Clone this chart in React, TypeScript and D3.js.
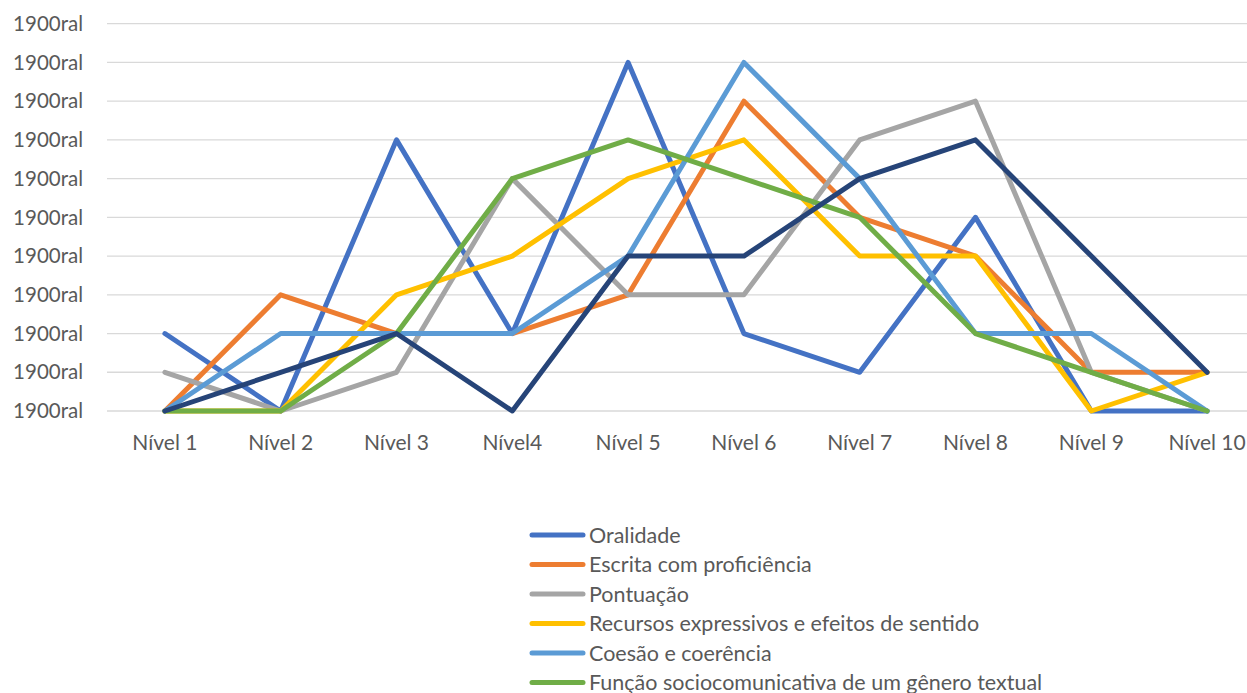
import * as d3 from "d3";
import { useEffect, useRef } from "react";

const categories = [
  "Nível 1",
  "Nível 2",
  "Nível 3",
  "Nível4",
  "Nível 5",
  "Nível 6",
  "Nível 7",
  "Nível 8",
  "Nível 9",
  "Nível 10",
];

const tickValues = [0, 1, 2, 3, 4, 5, 6, 7, 8, 9, 10];
const tickLabel = "1900ral";

const seriesNames = [
  "Oralidade",
  "Escrita com proficiência",
  "Pontuação",
  "Recursos expressivos e efeitos de sentido",
  "Coesão e coerência",
  "Função sociocomunicativa de um gênero textual",
  "Leitura",
];

const oralidade = [2, 0, 7, 2, 9, 2, 1, 5, 0, 0];
const escrita = [0, 3, 2, 2, 3, 8, 5, 4, 1, 1];
const pontuacao = [1, 0, 1, 6, 3, 3, 7, 8, 1, 0];
const recursos = [0, 0, 3, 4, 6, 7, 4, 4, 0, 1];
const coesao = [0, 2, 2, 2, 4, 9, 6, 2, 2, 0];
const funcao = [0, 0, 2, 6, 7, 6, 5, 2, 1, 0];
const leitura = [0, 1, 2, 0, 4, 4, 6, 7, 4, 1];

const colors = ["#4472C4", "#ED7D31", "#A5A5A5", "#FFC000", "#5B9BD5", "#70AD47", "#264478"];

const W = 1247;
const H = 693;
const FONT = "Lato, 'Open Sans', sans-serif";

export default function App() {
  const svgRef = useRef<SVGSVGElement>(null);

  useEffect(() => {
    const values = [oralidade, escrita, pontuacao, recursos, coesao, funcao, leitura];
    const series = seriesNames.map((name, i) => ({ name, color: colors[i], values: values[i] }));

    const svg = d3.select(svgRef.current);
    svg.selectAll("*").remove();

    const x = d3.scalePoint<string>().domain(categories).range([107, 1265]).padding(0.5);
    const y = d3.scaleLinear().domain([0, 10]).range([411, 23.7]);

    // gridlines
    svg
      .append("g")
      .selectAll("line")
      .data(tickValues)
      .enter()
      .append("line")
      .attr("x1", 107)
      .attr("x2", 1265)
      .attr("y1", (d) => y(d))
      .attr("y2", (d) => y(d))
      .attr("stroke", "#D9D9D9")
      .attr("stroke-width", 1.3);

    // y labels
    svg
      .append("g")
      .selectAll("text")
      .data(tickValues)
      .enter()
      .append("text")
      .attr("x", 83)
      .attr("y", (d) => y(d))
      .attr("dy", "0.35em")
      .attr("text-anchor", "end")
      .attr("font-family", FONT)
      .attr("font-size", 20.5)
      .attr("fill", "#595959")
      .text(tickLabel);

    // x labels
    svg
      .append("g")
      .selectAll("text")
      .data(categories)
      .enter()
      .append("text")
      .attr("x", (d) => x(d) || 0)
      .attr("y", 443)
      .attr("dy", "0.35em")
      .attr("text-anchor", "middle")
      .attr("font-family", FONT)
      .attr("font-size", 21)
      .attr("fill", "#595959")
      .text((d) => d);

    const line = d3
      .line<number>()
      .x((_, i) => x(categories[i]) || 0)
      .y((d) => y(d));

    svg
      .append("g")
      .selectAll("path")
      .data(series)
      .enter()
      .append("path")
      .attr("d", (s) => line(s.values))
      .attr("fill", "none")
      .attr("stroke", (s) => s.color)
      .attr("stroke-width", 5)
      .attr("stroke-linejoin", "round")
      .attr("stroke-linecap", "round");

    // legend (last entry falls below the visible area, as in the original)
    const legend = svg
      .append("g")
      .selectAll("g")
      .data(series)
      .enter()
      .append("g")
      .attr("transform", (_, i) => `translate(0,${535 + i * 29.5})`);

    legend
      .append("line")
      .attr("x1", 532)
      .attr("x2", 583)
      .attr("stroke", (s) => s.color)
      .attr("stroke-width", 5)
      .attr("stroke-linecap", "round");

    legend
      .append("text")
      .attr("x", 589)
      .attr("dy", "0.35em")
      .attr("font-family", FONT)
      .attr("font-size", 21.5)
      .attr("fill", "#595959")
      .text((s) => s.name);
  }, []);

  return (
    <svg
      ref={svgRef}
      width={W}
      height={H}
      style={{ position: "absolute", left: 0, top: 0, background: "#fff" }}
    ></svg>
  );
}
